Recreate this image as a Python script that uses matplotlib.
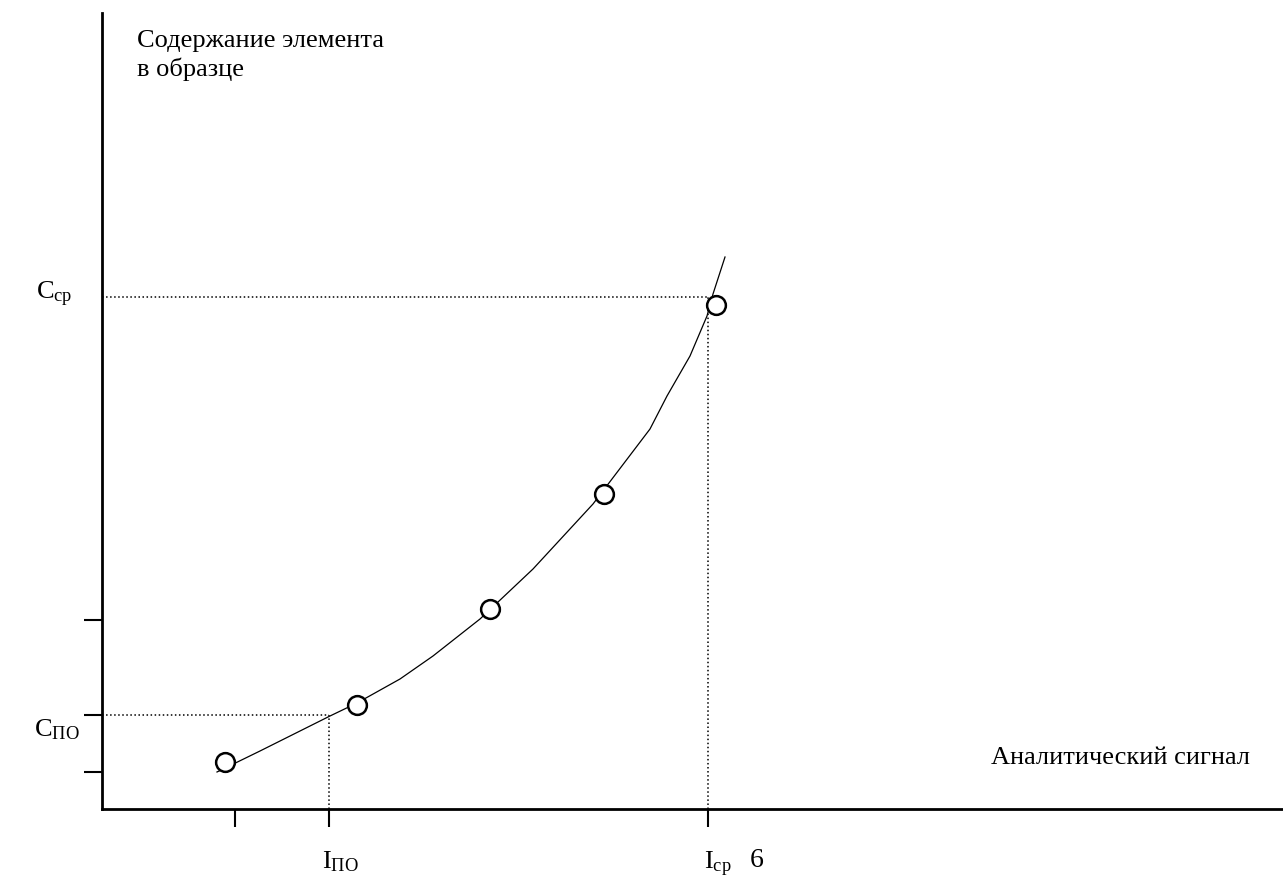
import numpy as np
import matplotlib
matplotlib.use("Agg")
import matplotlib.pyplot as plt

plt.rcParams['font.family'] = ['Liberation Serif', 'DejaVu Serif']
plt.rcParams['mathtext.fontset'] = 'custom'
plt.rcParams['mathtext.rm'] = 'Liberation Serif'
plt.rcParams['mathtext.it'] = 'Liberation Serif'

# calibration points (signal, content)
pt_x = [123, 255, 388, 502, 614]
pt_y = [47, 104, 200, 315, 504]
# hand drawn calibration curve
cur_x = [115, 158, 228, 255, 298, 331, 378, 431, 491, 548, 565, 588, 605, 611, 623]
cur_y = [37, 58, 93, 106, 130, 153, 190, 240, 305, 380, 413, 453, 493, 515, 552]
# axis ticks
xtick_pos = [133, 227, 606]
ytick_pos = [37, 94, 189]
# detection limit and upper limit
i_po, c_po = 227, 94
i_sr, c_sr = 606, 512

W, H = 1283, 878
fig = plt.figure(figsize=(W/100, H/100), dpi=100)
ax = fig.add_axes([102/W, 68/H, 1181/W, 796/H])
ax.set_xlim(0, 1181)
ax.set_ylim(0, 796)

for s in ['top', 'right']:
    ax.spines[s].set_visible(False)
for s in ['left', 'bottom']:
    ax.spines[s].set_linewidth(2)
    ax.spines[s].set_color('black')

ax.set_xticks(xtick_pos)
ax.set_yticks(ytick_pos)
ax.set_xticklabels([])
ax.set_yticklabels([])
ax.tick_params(axis='both', direction='out', length=13, width=1.5, color='black')

# dotted guide lines
ax.plot([0, i_po], [c_po, c_po], ':', color='black', lw=1.1)
ax.plot([i_po, i_po], [0, c_po], ':', color='black', lw=1.1)
ax.plot([0, i_sr], [c_sr, c_sr], ':', color='black', lw=1.1)
ax.plot([i_sr, i_sr], [0, c_sr], ':', color='black', lw=1.1)

ax.plot(cur_x, cur_y, '-', color='black', lw=0.9)
ax.plot(pt_x, pt_y, 'o', ms=13.5, mfc='white', mec='black', mew=1.8, ls='none', zorder=5)

fs = 19
ax.text(35, 780, "Содержание элемента\nв образце", fontsize=fs, va='top', ha='left',
        linespacing=1.3)
ax.text(1148, 52, "Аналитический сигнал", fontsize=fs, va='center', ha='right')

ax.text(-30, c_sr + 4, r"$\mathrm{C}_{\mathrm{ср}}$", fontsize=19, ha='right', va='center', clip_on=False)
ax.text(-22, c_po - 14, r"$\mathrm{C}_{\mathrm{ПО}}$", fontsize=19, ha='right', va='center', clip_on=False)
ax.text(i_po + 11, -52, r"$\mathrm{I}_{\mathrm{ПО}}$", fontsize=19, ha='center', va='center', clip_on=False)
ax.text(i_sr + 10, -54, r"$\mathrm{I}_{\mathrm{ср}}$", fontsize=19, ha='center', va='center', clip_on=False)
ax.text(655, -51, "6", fontsize=20, ha='center', va='center', clip_on=False)

fig.savefig("out.png", dpi=100)
